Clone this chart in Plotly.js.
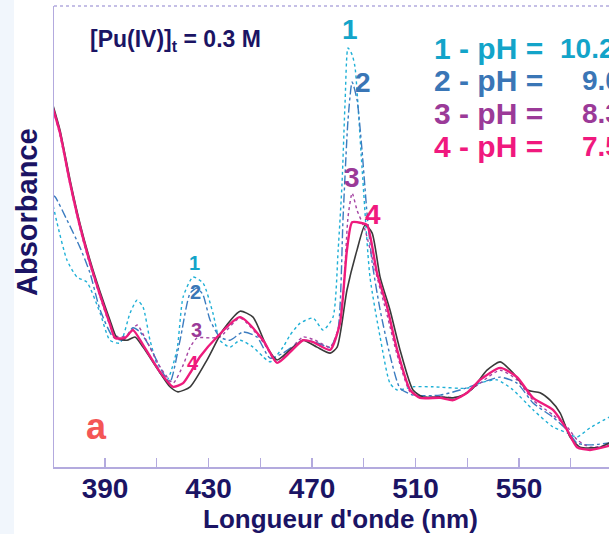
<!DOCTYPE html>
<html><head><meta charset="utf-8">
<script src="https://cdn.plot.ly/plotly-3.0.1.min.js"></script>
<style>html,body{margin:0;padding:0;overflow:hidden;background:#fff}#chart{width:627px;height:534px}</style>
</head><body><div id="chart"></div><script>
// Wavelengths (nm) and absorbance (arbitrary units)
const wlC1 = [369.5,371.5,375.3,379.2,383.0,388.1,391.9,395.8,399.7,402.4,404.7,407.4,411.3,414.0,417.8,420.2,424.0,427.9,431.7,434.4,438.3,442.2,447.2,451.1,453.8,458.8,461.5,465.4,470.4,474.3,478.1,480.1,481.6,482.8,483.9,485.5,486.6,489.3,492.4,496.3,500.1,502.9,509.0,516.8,529.9,534.9,541.5,547.7,555.4,563.1,568.6,572.4,577.4,584.8];
const absC1 = [0.579,0.529,0.449,0.412,0.401,0.334,0.275,0.269,0.334,0.362,0.347,0.275,0.204,0.189,0.254,0.369,0.412,0.399,0.334,0.275,0.260,0.275,0.260,0.239,0.228,0.260,0.286,0.312,0.323,0.297,0.325,0.471,0.616,0.796,0.909,0.894,0.868,0.651,0.412,0.282,0.182,0.167,0.174,0.174,0.171,0.182,0.189,0.167,0.124,0.087,0.074,0.065,0.085,0.108];

const wlC2 = [369.5,370.7,375.3,380.3,384.2,388.1,393.1,397.0,400.8,403.5,407.4,412.4,415.1,419.0,422.9,425.6,427.9,430.6,434.4,438.3,443.3,448.7,453.8,458.8,466.5,471.2,477.0,480.0,482.0,483.9,485.5,487.4,489.3,491.3,493.2,496.3,500.1,504.0,509.0,519.5,527.2,534.9,542.7,549.2,555.4,563.1,568.6,572.4,577.4,584.8];
const absC2 = [0.590,0.586,0.536,0.477,0.421,0.341,0.282,0.275,0.302,0.293,0.260,0.204,0.184,0.275,0.377,0.388,0.373,0.319,0.282,0.275,0.293,0.282,0.236,0.247,0.275,0.271,0.260,0.297,0.542,0.753,0.835,0.796,0.688,0.547,0.445,0.341,0.243,0.171,0.156,0.156,0.167,0.182,0.195,0.182,0.139,0.108,0.080,0.052,0.048,0.052];

const wlC3 = [369.5,372.6,376.5,380.3,384.2,388.1,391.9,395.0,398.9,402.4,405.5,411.3,416.3,420.2,422.9,425.6,430.6,434.4,442.2,451.1,456.5,461.5,466.5,471.2,477.0,480.0,482.0,483.9,485.5,487.4,490.5,494.4,499.0,502.9,507.9,511.7,519.5,527.2,534.9,542.7,549.2,555.4,563.1,568.6,572.4,577.4,584.8];
const absC3 = [0.785,0.720,0.612,0.518,0.438,0.369,0.308,0.282,0.286,0.308,0.280,0.217,0.182,0.221,0.260,0.280,0.280,0.282,0.323,0.271,0.226,0.254,0.282,0.275,0.260,0.297,0.369,0.542,0.594,0.557,0.514,0.427,0.330,0.243,0.163,0.152,0.152,0.152,0.182,0.210,0.189,0.145,0.113,0.087,0.059,0.043,0.048];

const wlC4 = [369.5,372.6,376.5,380.3,384.2,388.1,391.9,393.9,397.7,400.8,404.7,411.3,416.3,420.2,422.9,426.7,433.3,442.2,451.1,456.5,461.5,466.5,470.4,477.0,480.8,483.5,485.5,489.3,491.3,495.1,499.0,502.9,507.9,511.7,519.5,524.5,529.9,534.9,542.7,549.2,555.4,563.1,568.6,572.4,577.4,584.8];
const absC4 = [0.785,0.725,0.616,0.523,0.443,0.373,0.310,0.280,0.280,0.297,0.265,0.206,0.174,0.182,0.204,0.239,0.282,0.325,0.275,0.226,0.249,0.275,0.271,0.254,0.312,0.471,0.531,0.529,0.525,0.421,0.347,0.254,0.167,0.150,0.150,0.145,0.161,0.189,0.215,0.195,0.150,0.124,0.080,0.043,0.037,0.046];

const wlBlack = [369.5,372.6,376.5,380.3,384.2,388.1,391.9,394.6,398.5,401.6,404.7,411.3,415.1,418.2,422.9,429.4,435.6,442.2,447.2,452.6,456.5,461.5,466.5,471.9,477.0,479.7,483.5,487.4,490.5,493.2,496.3,500.1,504.0,509.0,512.9,519.5,524.5,528.4,532.2,537.6,542.7,547.7,553.1,558.1,562.0,565.9,569.7,573.6,581.3,584.8];
const absBlack = [0.792,0.731,0.623,0.529,0.449,0.380,0.319,0.280,0.275,0.282,0.260,0.204,0.174,0.163,0.174,0.232,0.297,0.338,0.325,0.260,0.232,0.254,0.275,0.260,0.247,0.260,0.384,0.471,0.525,0.508,0.412,0.341,0.254,0.167,0.152,0.152,0.150,0.156,0.171,0.210,0.228,0.204,0.167,0.161,0.145,0.117,0.065,0.043,0.043,0.052];

const tickValues = [390,430,470,510,550];
const tickLabels = ['390','430','470','510','550'];
const curveNames = ['1','2','3','4'];
const phValues = ['10.2','9.0','8.3','7.5'];

const NAVY = '#1b1464';
const LAV = '#b3aade';
const FONT = 'Liberation Sans, Arial, sans-serif';
const colors = ['#1fb0d6','#3b7cc0','#a443a2','#ee1b7c'];
const textColors = ['#13a4c9','#3a76b6','#9b3a98','#f0197e'];

const W = 627, H = 534, ML = 54, MT = 6, MB = 67;
const PW = W - ML, PH = H - MT - MB;
const px = x => (x - ML) / PW;
const py = y => (H - MB - y) / PH;

const sp = 0.6;
const traces = [
  {x: wlC1, y: absC1, mode:'lines', line:{color:colors[0], width:1.4, dash:'dot', shape:'spline', smoothing:sp}},
  {x: wlC2, y: absC2, mode:'lines', line:{color:colors[1], width:1.4, dash:'dashdot', shape:'spline', smoothing:sp}},
  {x: wlC3, y: absC3, mode:'lines', line:{color:colors[2], width:1.4, dash:'dot', shape:'spline', smoothing:sp}},
  {x: wlBlack, y: absBlack, mode:'lines', line:{color:'#3a3a3a', width:1.6, shape:'spline', smoothing:sp}},
  {x: wlC4, y: absC4, mode:'lines', line:{color:colors[3], width:2.4, shape:'spline', smoothing:sp}}
];

const ann = [];
const bigPos = [[484.7,0.948],[489.7,0.833],[485.5,0.627],[493.6,0.547]];
const smallPos = [[424.4,0.443],[424.8,0.380],[425.2,0.297],[424.0,0.226]];
const legendY = [48,80,113,146];
for (let i=0;i<4;i++){
  ann.push({x:bigPos[i][0], y:bigPos[i][1], xref:'x', yref:'y', text:curveNames[i], showarrow:false,
    font:{family:FONT, size:28, color:textColors[i], weight:'bold'}});
  ann.push({x:smallPos[i][0], y:smallPos[i][1], xref:'x', yref:'y', text:curveNames[i], showarrow:false,
    font:{family:FONT, size:20, color:textColors[i], weight:'bold'}});
  ann.push({x:px(432), y:py(legendY[i]), xref:'paper', yref:'paper', xanchor:'left', yanchor:'middle', showarrow:false,
    text:curveNames[i] + ' - pH =', font:{family:FONT, size:30, color:textColors[i], weight:'bold'}});
  ann.push({x:px(i===0?558:580), y:py(legendY[i]), xref:'paper', yref:'paper', xanchor:'left', yanchor:'middle', showarrow:false,
    text:phValues[i], font:{family:FONT, size:28, color:textColors[i], weight:'bold'}});
}
ann.push({x:px(88), y:py(41), xref:'paper', yref:'paper', xanchor:'left', yanchor:'middle', showarrow:false,
  text:'[Pu(IV)]<sub>t</sub> = 0.3 M', font:{family:FONT, size:23, color:NAVY, weight:'bold'}});
ann.push({x:px(96), y:py(426), xref:'paper', yref:'paper', xanchor:'center', yanchor:'middle', showarrow:false,
  text:'a', font:{family:FONT, size:36, color:'#f45656', weight:'bold'}});
ann.push({x:px(27), y:py(212), xref:'paper', yref:'paper', xanchor:'center', yanchor:'middle', showarrow:false,
  textangle:-90, text:'Absorbance', font:{family:FONT, size:29, color:NAVY, weight:'bold'}});

const layout = {
  width: W, height: H,
  margin: {l:ML, r:0, t:MT, b:MB},
  paper_bgcolor:'#ffffff', plot_bgcolor:'#ffffff',
  showlegend:false,
  xaxis: {
    range:[370.3, 591.7], showline:true, linecolor:LAV, linewidth:1.5,
    ticks:'inside', ticklen:9, tickwidth:1.2, tickcolor:LAV,
    tickvals:tickValues, ticktext:tickLabels, ticklabelstandoff:-4,
    tickfont:{family:FONT, size:28, color:NAVY, weight:'bold'},
    minor:{tick0:390, dtick:20, ticks:'inside', ticklen:9, tickwidth:1.2, tickcolor:LAV, showgrid:false},
    showgrid:false, zeroline:false,
    title:{text:"Longueur d'onde (nm)", font:{family:FONT, size:26, color:NAVY, weight:'bold'}, standoff:0}
  },
  yaxis: {
    range:[0,1], showline:true, linecolor:LAV, linewidth:1.5,
    ticks:'', showticklabels:false, showgrid:false, zeroline:false
  },
  shapes: [
    {type:'line', xref:'paper', yref:'paper', x0:0, x1:1, y0:1, y1:1, line:{color:LAV, width:1.5, dash:'dot'}},
    {type:'rect', xref:'paper', yref:'paper', x0:px(0), x1:px(14), y0:py(534), y1:py(0), line:{width:0}, fillcolor:'#f1f6fc', layer:'below'}
  ],
  annotations: ann
};

Plotly.newPlot('chart', traces, layout, {staticPlot:true, displayModeBar:false});
</script></body></html>
